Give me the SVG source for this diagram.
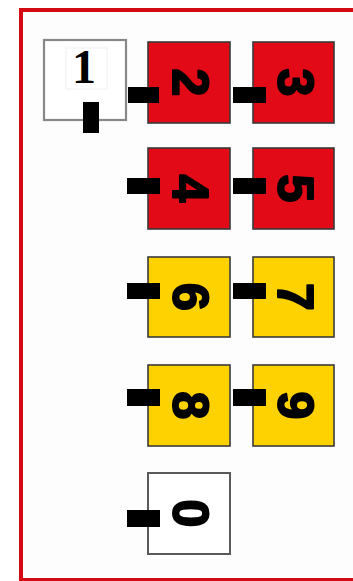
<svg xmlns="http://www.w3.org/2000/svg" width="353" height="581" viewBox="0 0 353 581">
<style>
.box{stroke:#3a3a3a;stroke-width:1.6}
.red{fill:#e20a17}
.yel{fill:#fed100}
.wht{fill:#ffffff;stroke:#5a5a5a;stroke-width:2}
.dig{font-family:"Liberation Sans",Arial,sans-serif;font-weight:bold;font-size:50px;fill:#000;stroke:#000;stroke-width:2;stroke-linejoin:round;text-anchor:middle}
.con{fill:#000}
</style>
<rect x="0" y="0" width="353" height="581" fill="#ffffff"/>
<rect id="frame" x="21" y="10" width="400" height="570" fill="#fdfdfd" stroke="#d40a12" stroke-width="4"/>
<g id="n1">
<rect x="44" y="40" width="82" height="80" fill="#ffffff" stroke="#888" stroke-width="2.2"/>
<rect x="66" y="48" width="41" height="41" fill="#ffffff" stroke="#f0f0f0" stroke-width="1"/>
<text x="84" y="83" font-family="'Liberation Serif','Times New Roman',serif" font-weight="bold" font-size="48" text-anchor="middle" fill="#000">1</text>
</g>
<g id="n2"><rect class="box red" x="148" y="42" width="82" height="81"/><text class="dig" transform="translate(173,82.5) rotate(90)">2</text></g>
<g id="n3"><rect class="box red" x="253" y="42" width="81" height="81"/><text class="dig" transform="translate(278,82.5) rotate(90)">3</text></g>
<g id="n4"><rect class="box red" x="148" y="148" width="82" height="81"/><text class="dig" transform="translate(173,188.5) rotate(90)">4</text></g>
<g id="n5"><rect class="box red" x="253" y="148" width="81" height="81"/><text class="dig" transform="translate(278,188.5) rotate(90)">5</text></g>
<g id="n6"><rect class="box yel" x="148" y="257" width="82" height="80"/><text class="dig" transform="translate(173,297) rotate(90)">6</text></g>
<g id="n7"><rect class="box yel" x="253" y="257" width="81" height="80"/><text class="dig" transform="translate(278,297) rotate(90)">7</text></g>
<g id="n8"><rect class="box yel" x="148" y="365" width="82" height="81"/><text class="dig" transform="translate(173,405.5) rotate(90)">8</text></g>
<g id="n9"><rect class="box yel" x="253" y="365" width="81" height="81"/><text class="dig" transform="translate(278,405.5) rotate(90)">9</text></g>
<g id="n0"><rect class="wht" x="148" y="473" width="82" height="81"/><text class="dig" transform="translate(173,513.5) rotate(90)">0</text></g>
<g id="connectors">
<rect class="con" x="83" y="102" width="16" height="31"/>
<rect class="con" x="128" y="87" width="31" height="16"/>
<rect class="con" x="233" y="87" width="33" height="16"/>
<rect class="con" x="127" y="178" width="33" height="16"/>
<rect class="con" x="233" y="178" width="33" height="16"/>
<rect class="con" x="127" y="283" width="33" height="16"/>
<rect class="con" x="233" y="283" width="33" height="16"/>
<rect class="con" x="127" y="389" width="33" height="17"/>
<rect class="con" x="233" y="389" width="33" height="17"/>
<rect class="con" x="127" y="510" width="33" height="17"/>
</g>
</svg>
